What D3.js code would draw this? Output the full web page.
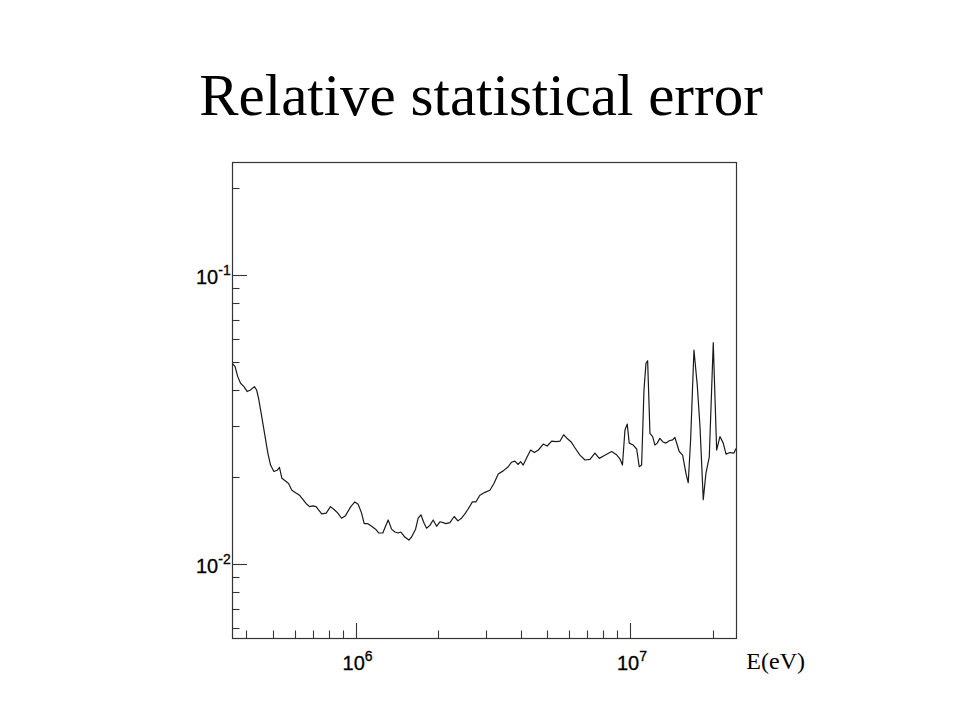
<!DOCTYPE html>
<html>
<head>
<meta charset="utf-8">
<script src="https://cdn.jsdelivr.net/npm/d3@7"></script>
<style>
  html, body { margin: 0; padding: 0; background: #fff; }
  svg { display: block; }
</style>
</head>
<body>
<script>
// ---- Data ----
const energies = [
  3.54e5, 3.64e5, 3.72e5, 3.81e5, 3.92e5, 4.03e5, 4.14e5, 4.28e5, 4.36e5, 4.43e5,
  4.53e5, 4.66e5, 4.79e5, 4.90e5, 5.04e5, 5.18e5, 5.28e5, 5.39e5, 5.54e5, 5.70e5,
  5.86e5, 6.07e5, 6.25e5, 6.37e5, 6.60e5, 6.80e5, 6.99e5, 7.18e5, 7.33e5, 7.53e5,
  7.82e5, 8.10e5, 8.37e5, 8.62e5, 8.89e5, 9.19e5, 9.61e5, 9.94e5, 1.022e6, 1.052e6,
  1.075e6, 1.106e6, 1.144e6, 1.183e6, 1.216e6, 1.257e6, 1.286e6, 1.315e6, 1.353e6, 1.391e6,
  1.430e6, 1.463e6, 1.512e6, 1.564e6, 1.600e6, 1.655e6, 1.691e6, 1.730e6, 1.779e6, 1.815e6,
  1.866e6, 1.918e6, 1.974e6, 2.030e6, 2.086e6, 2.134e6, 2.207e6, 2.288e6, 2.360e6, 2.434e6,
  2.503e6, 2.573e6, 2.666e6, 2.745e6, 2.838e6, 2.961e6, 3.088e6, 3.194e6, 3.311e6, 3.452e6,
  3.600e6, 3.704e6, 3.808e6, 3.915e6, 3.995e6, 4.083e6, 4.222e6, 4.345e6, 4.485e6, 4.638e6,
  4.829e6, 4.995e6, 5.183e6, 5.387e6, 5.557e6, 5.732e6, 5.878e6, 6.094e6, 6.328e6, 6.572e6,
  6.855e6, 7.148e6, 7.455e6, 7.729e6, 8.040e6, 8.578e6, 8.930e6, 9.195e6, 9.391e6, 9.590e6,
  9.775e6, 9.940e6, 1.028e7, 1.058e7, 1.081e7, 1.103e7, 1.125e7, 1.144e7, 1.160e7, 1.183e7,
  1.210e7, 1.233e7, 1.257e7, 1.286e7, 1.316e7, 1.352e7, 1.391e7, 1.431e7, 1.459e7, 1.512e7,
  1.556e7, 1.600e7, 1.631e7, 1.664e7, 1.711e7, 1.759e7, 1.800e7, 1.850e7, 1.892e7, 1.946e7,
  2.012e7, 2.070e7, 2.128e7, 2.188e7, 2.239e7, 2.315e7, 2.394e7, 2.435e7
];
const relErrors = [
  0.0497, 0.0482, 0.0445, 0.0422, 0.0411, 0.0395, 0.0400, 0.0411, 0.0400, 0.0375,
  0.0332, 0.0283, 0.0242, 0.0220, 0.0209, 0.0211, 0.0216, 0.0198, 0.0194, 0.0190,
  0.0180, 0.0176, 0.0173, 0.0169, 0.0162, 0.0158, 0.0159, 0.0158, 0.0154, 0.0149,
  0.0150, 0.0158, 0.0154, 0.0150, 0.0144, 0.0147, 0.0158, 0.0164, 0.0161, 0.0150,
  0.0138, 0.0138, 0.0135, 0.0132, 0.0128, 0.0128, 0.0135, 0.0142, 0.0132, 0.0129,
  0.0128, 0.0129, 0.0124, 0.0121, 0.0124, 0.0132, 0.0144, 0.0148, 0.0138, 0.0133,
  0.0136, 0.0142, 0.0135, 0.0140, 0.0139, 0.0138, 0.0139, 0.0146, 0.0141, 0.0144,
  0.0149, 0.0155, 0.0164, 0.0164, 0.0173, 0.0177, 0.0180, 0.0190, 0.0205, 0.0210,
  0.0217, 0.0225, 0.0227, 0.0221, 0.0226, 0.0220, 0.0235, 0.0248, 0.0243, 0.0248,
  0.0260, 0.0256, 0.0266, 0.0265, 0.0266, 0.0280, 0.0273, 0.0265, 0.0251, 0.0238,
  0.0229, 0.0230, 0.0242, 0.0232, 0.0237, 0.0245, 0.0239, 0.0231, 0.0220, 0.0291,
  0.0305, 0.0262, 0.0258, 0.0250, 0.0217, 0.0220, 0.0400, 0.0495, 0.0505, 0.0283,
  0.0276, 0.0258, 0.0262, 0.0272, 0.0265, 0.0262, 0.0267, 0.0269, 0.0274, 0.0245,
  0.0238, 0.0206, 0.0191, 0.0269, 0.0550, 0.0416, 0.0299, 0.0167, 0.0206, 0.0235,
  0.0583, 0.0248, 0.0276, 0.0262, 0.0240, 0.0243, 0.0242, 0.0251
];
const xDomain = [3.546e5, 2.435e7];
const yDomain = [0.005546, 0.246];
const xMajorTicks = [1e6, 1e7];
const xMajorExponents = ["6", "7"];
const xMinorTicks = [4e5, 5e5, 6e5, 7e5, 8e5, 9e5, 2e6, 3e6, 4e6, 5e6, 6e6, 7e6, 8e6, 9e6, 2e7];
const yMajorTicks = [0.01, 0.1];
const yMajorExponents = ["-2", "-1"];
const yMinorTicks = [0.006, 0.007, 0.008, 0.009, 0.02, 0.03, 0.04, 0.05, 0.06, 0.07, 0.08, 0.09, 0.2];
const titleText = "Relative statistical error";
const xAxisTitle = "E(eV)";

// ---- Layout ----
const W = 960, H = 720;
const frame = { left: 232, right: 736, top: 162, bottom: 638 };

const svg = d3.select("body").append("svg")
  .attr("width", W).attr("height", H)
  .attr("viewBox", `0 0 ${W} ${H}`);

svg.append("rect").attr("width", W).attr("height", H).attr("fill", "#fff");

const x = d3.scaleLog().domain(xDomain).range([frame.left, frame.right]);
const y = d3.scaleLog().domain(yDomain).range([frame.bottom, frame.top]);

// Title
svg.append("text")
  .attr("x", 481).attr("y", 115)
  .attr("text-anchor", "middle")
  .attr("font-family", "'Liberation Serif', 'Times New Roman', serif")
  .attr("font-size", 59)
  .attr("fill", "#000")
  .text(titleText);

// Clip for curve
svg.append("clipPath").attr("id", "clip")
  .append("rect")
  .attr("x", frame.left).attr("y", frame.top)
  .attr("width", frame.right - frame.left).attr("height", frame.bottom - frame.top);

// Curve
const pts = energies.map((e, i) => [e, relErrors[i]]);
const line = d3.line().x(d => x(d[0])).y(d => y(d[1]));
svg.append("path")
  .datum(pts)
  .attr("clip-path", "url(#clip)")
  .attr("fill", "none")
  .attr("stroke", "#1a1a1a")
  .attr("stroke-width", 1.2)
  .attr("stroke-linejoin", "round")
  .attr("d", line);

// Frame
svg.append("rect")
  .attr("x", frame.left + 0.5).attr("y", frame.top + 0.5)
  .attr("width", frame.right - frame.left).attr("height", frame.bottom - frame.top)
  .attr("fill", "none").attr("stroke", "#333").attr("stroke-width", 1.2);

const tickColor = "#333";
const majorLen = 15, minorLen = 7.5;

// X ticks (pointing up, inside frame)
const gx = svg.append("g");
gx.selectAll("line.minor").data(xMinorTicks).join("line")
  .attr("x1", d => Math.round(x(d)) + 0.5).attr("x2", d => Math.round(x(d)) + 0.5)
  .attr("y1", frame.bottom).attr("y2", frame.bottom - minorLen)
  .attr("stroke", tickColor).attr("stroke-width", 1.1);
gx.selectAll("line.major").data(xMajorTicks).join("line")
  .attr("x1", d => Math.round(x(d)) + 0.5).attr("x2", d => Math.round(x(d)) + 0.5)
  .attr("y1", frame.bottom).attr("y2", frame.bottom - majorLen)
  .attr("stroke", tickColor).attr("stroke-width", 1.1);

const labelFont = "Arial, 'Liberation Sans', Helvetica, sans-serif";
const xl = gx.selectAll("text.lab").data(xMajorTicks).join("text")
  .attr("font-family", labelFont).attr("font-size", 20).attr("fill", "#000")
  .attr("stroke", "#000").attr("stroke-width", 0.3)
  .attr("x", d => x(d) - 13).attr("y", 670);
xl.append("tspan").text("10");
xl.append("tspan").attr("font-size", 14).attr("dy", -9)
  .text((d, i) => xMajorExponents[i]);

// Y ticks (pointing right, inside frame)
const gy = svg.append("g");
gy.selectAll("line.minor").data(yMinorTicks).join("line")
  .attr("x1", frame.left).attr("x2", frame.left + minorLen)
  .attr("y1", d => Math.round(y(d)) + 0.5).attr("y2", d => Math.round(y(d)) + 0.5)
  .attr("stroke", tickColor).attr("stroke-width", 1.1);
gy.selectAll("line.major").data(yMajorTicks).join("line")
  .attr("x1", frame.left).attr("x2", frame.left + majorLen)
  .attr("y1", d => Math.round(y(d)) + 0.5).attr("y2", d => Math.round(y(d)) + 0.5)
  .attr("stroke", tickColor).attr("stroke-width", 1.1);

const yl = gy.selectAll("text.lab").data(yMajorTicks).join("text")
  .attr("font-family", labelFont).attr("font-size", 20).attr("fill", "#000")
  .attr("stroke", "#000").attr("stroke-width", 0.3)
  .attr("x", 196).attr("y", d => y(d) + 9);
yl.append("tspan").text("10");
yl.append("tspan").attr("font-size", 14).attr("dy", -9)
  .text((d, i) => yMajorExponents[i]);

// X axis title
svg.append("text")
  .attr("x", 805).attr("y", 669)
  .attr("text-anchor", "end")
  .attr("font-family", "'Liberation Serif', 'Times New Roman', serif")
  .attr("font-size", 24).attr("fill", "#000")
  .text(xAxisTitle);
</script>
</body>
</html>
